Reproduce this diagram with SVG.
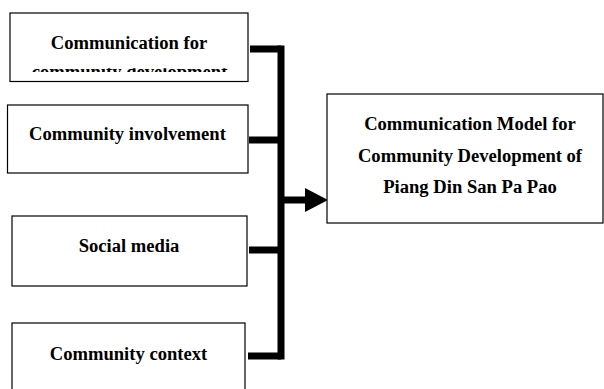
<svg xmlns="http://www.w3.org/2000/svg" width="604" height="389" viewBox="0 0 604 389">
<style>
.box{fill:#fff;stroke:#000;stroke-width:1.2}
.t{font-family:"Liberation Serif","Times New Roman",serif;font-weight:bold;font-size:18.6px;fill:#000;text-anchor:middle}
.bar{stroke:#000;stroke-width:7;fill:none}
</style>
<defs>
<clipPath id="clip1"><rect x="10" y="68.3" width="238" height="3.6"/></clipPath>
</defs>
<rect width="604" height="389" fill="#fff"/>
<g id="connectors">
<path class="bar" d="M250 49 H281"/>
<path class="bar" d="M281 45.5 V359.5"/>
<path class="bar" d="M249 140 H281"/>
<path class="bar" d="M249 250 H281"/>
<path class="bar" d="M248 356 H281"/>
<path class="bar" d="M281 200 H307"/>
<polygon points="305,188 328,200 305,212" fill="#000"/>
</g>
<g id="node1">
<rect class="box" x="10" y="13" width="238" height="68.5"/>
<text class="t" x="129" y="49">Communication for</text>
<text class="t" x="129.5" y="78" clip-path="url(#clip1)">community development</text>
</g>
<g id="node2">
<rect class="box" x="7.5" y="105" width="240.5" height="68"/>
<text class="t" x="127.5" y="140">Community involvement</text>
</g>
<g id="node3">
<rect class="box" x="12" y="216" width="235" height="70"/>
<text class="t" x="129" y="252">Social media</text>
</g>
<g id="node4">
<rect class="box" x="12" y="323" width="233" height="80"/>
<text class="t" x="128.5" y="360">Community context</text>
</g>
<g id="node5">
<rect class="box" x="327" y="94" width="276" height="129"/>
<text class="t" x="470" y="130">Communication Model for</text>
<text class="t" x="470" y="161.5">Community Development of</text>
<text class="t" x="470" y="193">Piang Din San Pa Pao</text>
</g>
</svg>
